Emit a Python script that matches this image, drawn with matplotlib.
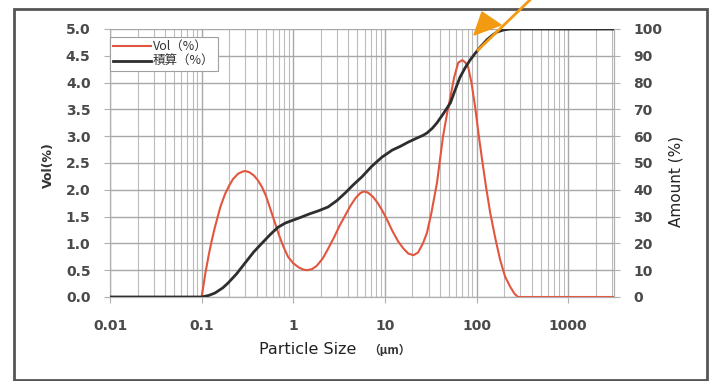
import matplotlib
matplotlib.use("Agg")
import matplotlib.pyplot as plt
from matplotlib.patches import Polygon, Rectangle
from matplotlib.ticker import LogLocator, NullFormatter, FixedLocator

# particle size distribution
vol_size = [0.01, 0.1, 0.11, 0.12, 0.13, 0.14, 0.16, 0.18, 0.2, 0.22, 0.25, 0.28, 0.3,
            0.33, 0.37, 0.41, 0.456, 0.5, 0.56, 0.632, 0.7, 0.78, 0.877, 1.0, 1.15,
            1.3, 1.41, 1.6, 1.8, 2.1, 2.4, 2.8, 3.2, 3.68, 4.2, 4.8, 5.4, 5.9, 6.5,
            7.4, 8.3, 9.3, 10.5, 12, 13.9, 16, 18, 20.5, 23, 26, 28.8, 32, 37, 43,
            48, 51.8, 57, 63, 69.7, 75, 81, 88, 96.6, 105, 115, 127, 141, 160, 181,
            205, 233, 260, 283, 3162]
vol_pct = [0, 0, 0.45, 0.8, 1.08, 1.31, 1.68, 1.92, 2.08, 2.2, 2.3, 2.34, 2.35,
           2.33, 2.27, 2.18, 2.05, 1.9, 1.65, 1.38, 1.15, 0.94, 0.75, 0.63, 0.55,
           0.51, 0.50, 0.52, 0.58, 0.72, 0.9, 1.12, 1.33, 1.52, 1.70, 1.85, 1.94, 1.97, 1.95,
           1.87, 1.76, 1.62, 1.45, 1.24, 1.04, 0.9, 0.81, 0.78, 0.83, 1.0, 1.2, 1.55, 2.13, 2.99,
           3.45, 3.73, 4.1, 4.37, 4.42, 4.38, 4.29, 4.0, 3.54, 3.05, 2.56, 2.05, 1.57, 1.1, 0.69,
           0.38, 0.19, 0.06, 0, 0]

cum_size = [0.01, 0.1, 0.12, 0.14, 0.17, 0.194, 0.24, 0.298, 0.37, 0.456, 0.56, 0.68,
            0.82, 1.0, 1.2, 1.5, 1.9, 2.4, 3.0, 3.68, 4.5, 5.6, 7.2, 9.3, 12, 14.7,
            18, 22, 26, 28.8, 33, 37, 43, 51.8, 58, 66, 75, 85, 97, 110, 130, 150,
            168, 200, 233, 3162]
cum_pct = [0, 0, 0.6, 1.5, 3.4, 5.2, 8.6, 12.7, 16.8, 20.1, 23.3, 26.0,
           27.6, 28.7, 29.7, 31.0, 32.2, 33.6, 36.0, 38.8, 41.8, 44.8, 48.8, 52.2, 54.8, 56.2,
           57.8, 59.2, 60.3, 61.2, 63, 65, 68.2, 72.4, 77, 82, 85.5, 88.4, 91, 93.3, 96, 97.8,
           98.9, 99.7, 100, 100]

x_ticks = [0.01, 0.1, 1, 10, 100, 1000]
x_labels = ["0.01", "0.1", "1", "10", "100", "1000"]
vol_ticks = [0.0, 0.5, 1.0, 1.5, 2.0, 2.5, 3.0, 3.5, 4.0, 4.5, 5.0]
amount_ticks = [0, 10, 20, 30, 40, 50, 60, 70, 80, 90, 100]

W, H = 714, 381
tick_col = '#4a4a4a'
grid_col = '#bcbcbc'


def px(x, y):
    return x / W, 1 - y / H


fig = plt.figure(figsize=(W / 100, H / 100), dpi=100)
ax = fig.add_axes([110 / W, (H - 297) / H, (614 - 110) / W, (297 - 29) / H])
ax2 = ax.twinx()

ax.set_xscale('log')
ax.set_xlim(0.01, 3162)
ax.set_ylim(0, 5)
ax2.set_ylim(0, 100)

ax.xaxis.set_major_locator(FixedLocator(x_ticks))
ax.set_xticklabels(x_labels)
ax.xaxis.set_minor_locator(LogLocator(base=10, subs=range(2, 10), numticks=20))
ax.xaxis.set_minor_formatter(NullFormatter())
ax.set_yticks(vol_ticks)
ax.set_yticklabels(["%.1f" % v for v in vol_ticks])
ax2.set_yticks(amount_ticks)

ax.grid(True, which='major', color='#a8a8a8', lw=1.0)
ax.grid(True, which='minor', axis='x', color=grid_col, lw=0.8)
ax.set_axisbelow(True)

for a in (ax, ax2):
    for s in a.spines.values():
        s.set_color('#b0b0b0')
    a.spines['top'].set_visible(False)
    a.tick_params(which='both', colors='#b0b0b0', labelcolor=tick_col, labelsize=10,
                  length=4, width=0.8, pad=10)
    a.tick_params(which='minor', length=0)
ax.tick_params(axis='x', pad=12)
for lbl in ax.get_xticklabels() + ax.get_yticklabels() + ax2.get_yticklabels():
    lbl.set_fontweight('bold')

ax.plot(vol_size, vol_pct, color='#e2553f', lw=1.5, label='Vol（%）', zorder=3)
ax2.plot(cum_size, cum_pct, color='#2e2e2e', lw=2.0, label='積算（%）', zorder=3)

h1, l1 = ax.get_legend_handles_labels()
h2, l2 = ax2.get_legend_handles_labels()
leg = ax2.legend(h1 + h2, l1 + l2, loc='upper left', bbox_to_anchor=(0, 1 - 8 / 268),
                 borderaxespad=0, fancybox=False, framealpha=1, edgecolor='#a0a0a0',
                 handlelength=3.0, handletextpad=0.2, borderpad=0.25, labelspacing=0.15,
                 prop={'family': ['Noto Sans CJK JP', 'DejaVu Sans'], 'size': 9})
leg.get_frame().set_linewidth(0.8)
for t in leg.get_texts():
    t.set_color('#333333')

fig.text(*px(48, 165), 'Vol(%)', rotation=90, ha='center', va='center',
         fontsize=9, fontweight='bold', color='#333333')
fig.text(*px(676, 181), 'Amount (%)', rotation=90, ha='center', va='center',
         fontsize=11, color='#222222')
fig.text(*px(308, 349), 'Particle Size', ha='center', va='center',
         fontsize=11.5, color='#222222')
fig.text(*px(389, 350), '（μm）', ha='center', va='center', fontsize=8.5,
         fontweight='bold', color='#333333', family=['Noto Sans CJK JP', 'DejaVu Sans'])

# outer frame
fig.patches.append(Rectangle(px(14, 380), (707 - 14) / W, (380 - 9) / H, transform=fig.transFigure,
                             fill=False, edgecolor='#555555', lw=2.0))

# orange pointer arrow
fig.lines.append(plt.Line2D([px(532, -2)[0], px(478, 50)[0]], [px(532, -2)[1], px(478, 50)[1]],
                            transform=fig.transFigure, color='#f29a12', lw=2.0))
fig.patches.append(Polygon([px(482, 12), px(501, 25), px(474, 35)], closed=True,
                           transform=fig.transFigure, color='#f29a12'))

fig.savefig('out.png', dpi=100)
